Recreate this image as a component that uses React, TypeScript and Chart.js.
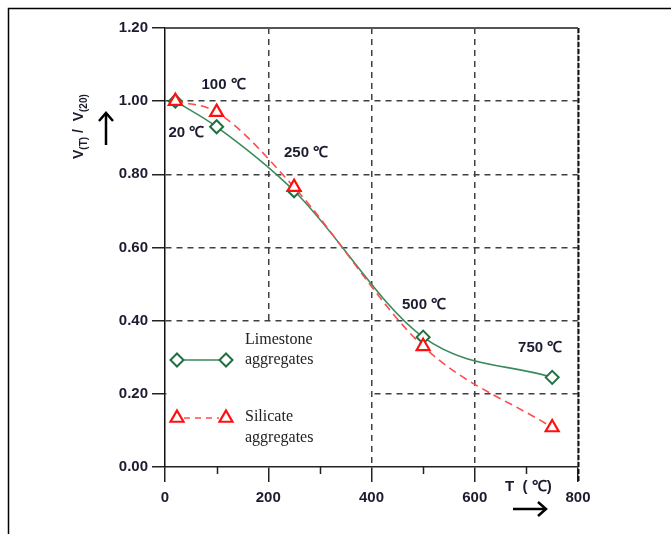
import React, { useEffect, useRef } from 'react';
import { Chart, registerables } from 'chart.js';

Chart.register(...registerables);

// ---------- data ----------
const temperatures = [20, 100, 250, 500, 750];
const limestone = [1.0, 0.93, 0.755, 0.355, 0.245];
const silicate = [1.0, 0.97, 0.765, 0.33, 0.108];
const xTicks = [0, 200, 400, 600, 800];
const xMinorTicks = [100, 300, 500, 700];
const yTicks = [0, 0.2, 0.4, 0.6, 0.8, 1.0, 1.2];
const annotationTemps = [100, 20, 250, 500, 750];
const legendLimestone = ['Limestone', 'aggregates'];
const legendSilicate = ['Silicate', 'aggregates'];

// ---------- styles / layout ----------
const GREEN_LINE = '#3a8a5c';
const GREEN_MARK = '#1f7040';
const RED_LINE = '#ff4d4d';
const RED_MARK = '#ff1010';
const TEXT = '#1c1c30';
const GRID = '#404040';
const SANS = '"Liberation Sans", Arial, sans-serif';
const SERIF = '"Liberation Serif", "Times New Roman", serif';
const annotationOffsets: [number, number][] = [
  [7, -42],
  [11, 32],
  [12, -38],
  [1, -32],
  [-12, -30],
];

function diamond(ctx: CanvasRenderingContext2D, x: number, y: number, r: number) {
  ctx.beginPath();
  ctx.moveTo(x, y - r);
  ctx.lineTo(x + r, y);
  ctx.lineTo(x, y + r);
  ctx.lineTo(x - r, y);
  ctx.closePath();
  ctx.fillStyle = '#fff';
  ctx.fill();
  ctx.strokeStyle = GREEN_MARK;
  ctx.lineWidth = 2;
  ctx.stroke();
}

function triangle(ctx: CanvasRenderingContext2D, x: number, y: number, r: number) {
  const c = Math.cos(Math.PI / 6) * r;
  ctx.beginPath();
  ctx.moveTo(x, y - r);
  ctx.lineTo(x + c, y + r / 2);
  ctx.lineTo(x - c, y + r / 2);
  ctx.closePath();
  ctx.fillStyle = '#fff';
  ctx.fill();
  ctx.strokeStyle = RED_MARK;
  ctx.lineWidth = 2.2;
  ctx.stroke();
}

const decorPlugin = {
  id: 'decor',
  beforeDatasetsDraw(chart: any) {
    const { ctx, chartArea: a, scales } = chart;
    const xs = scales.x;
    const ys = scales.y;
    ctx.save();
    // clear grid under the legend box
    const bx2 = xs.getPixelForValue(400) - 2;
    const by1 = ys.getPixelForValue(0.4) + 2;
    ctx.fillStyle = '#fff';
    ctx.fillRect(a.left + 1.5, by1, bx2 - a.left - 1.5, a.bottom - 1.5 - by1);
    // top border
    ctx.strokeStyle = '#555';
    ctx.lineWidth = 2;
    ctx.beginPath();
    ctx.moveTo(a.left, a.top);
    ctx.lineTo(a.right, a.top);
    ctx.stroke();
    // right border
    ctx.strokeStyle = '#888';
    ctx.lineWidth = 1;
    ctx.beginPath();
    ctx.moveTo(a.right, a.top);
    ctx.lineTo(a.right, a.bottom);
    ctx.stroke();
    ctx.strokeStyle = '#111';
    ctx.lineWidth = 2;
    ctx.setLineDash([5, 2]);
    ctx.beginPath();
    ctx.moveTo(a.right + 0.5, a.top);
    ctx.lineTo(a.right + 0.5, a.bottom + 14);
    ctx.stroke();
    ctx.setLineDash([]);
    ctx.restore();
  },
  afterDraw(chart: any) {
    const { ctx, chartArea: a, scales } = chart;
    const xs = scales.x;
    const ys = scales.y;
    ctx.save();

    // minor x ticks
    ctx.strokeStyle = '#222';
    ctx.lineWidth = 1.5;
    xMinorTicks.forEach((v) => {
      const px = Math.round(xs.getPixelForValue(v)) + 0.5;
      ctx.beginPath();
      ctx.moveTo(px, a.bottom);
      ctx.lineTo(px, a.bottom + 7);
      ctx.stroke();
    });

    // temperature annotations
    ctx.fillStyle = TEXT;
    ctx.font = `bold 15px ${SANS}`;
    ctx.textAlign = 'center';
    ctx.textBaseline = 'middle';
    annotationTemps.forEach((t, i) => {
      const idx = temperatures.indexOf(t);
      const px = xs.getPixelForValue(t) + annotationOffsets[i][0];
      const py = ys.getPixelForValue(limestone[idx]) + annotationOffsets[i][1];
      ctx.fillText(`${t} \u2103`, px, py);
    });

    // legend
    const lx1 = a.left + 12;
    const lx2 = a.left + 61;
    const ly1 = a.bottom - 107;
    const ly2 = a.bottom - 49;
    ctx.strokeStyle = GREEN_LINE;
    ctx.lineWidth = 1.6;
    ctx.beginPath();
    ctx.moveTo(lx1, ly1);
    ctx.lineTo(lx2, ly1);
    ctx.stroke();
    diamond(ctx, lx1, ly1, 6.5);
    diamond(ctx, lx2, ly1, 6.5);
    ctx.strokeStyle = RED_LINE;
    ctx.lineWidth = 1.6;
    ctx.setLineDash([6, 5]);
    ctx.beginPath();
    ctx.moveTo(lx1 + 7, ly2);
    ctx.lineTo(lx2 - 7, ly2);
    ctx.stroke();
    ctx.setLineDash([]);
    triangle(ctx, lx1, ly2, 7.5);
    triangle(ctx, lx2, ly2, 7.5);
    ctx.fillStyle = '#222';
    ctx.font = `16px ${SERIF}`;
    ctx.textAlign = 'left';
    ctx.textBaseline = 'middle';
    const tx = a.left + 80;
    ctx.fillText(legendLimestone[0], tx, ly1 - 20);
    ctx.fillText(legendLimestone[1], tx, ly1);
    ctx.fillText(legendSilicate[0], tx, ly2 - 1);
    ctx.fillText(legendSilicate[1], tx, ly2 + 20);

    // y-axis title (rotated) with sub-scripts
    ctx.fillStyle = TEXT;
    ctx.save();
    ctx.translate(a.left - 82, a.top + 131);
    ctx.rotate(-Math.PI / 2);
    ctx.textAlign = 'left';
    ctx.textBaseline = 'alphabetic';
    let cx = 0;
    const main = `bold 14px ${SANS}`;
    const sub = `bold 10px ${SANS}`;
    const parts: [string, string, number][] = [
      ['V', main, 0],
      ['(T)', sub, 4],
      [' /  V', main, 0],
      ['(20)', sub, 4],
    ];
    parts.forEach(([s, f, dy]) => {
      ctx.font = f;
      ctx.fillText(s, cx, dy);
      cx += ctx.measureText(s).width;
    });
    ctx.restore();

    // up arrow
    ctx.strokeStyle = '#000';
    ctx.lineWidth = 2.5;
    const ax = a.left - 59;
    ctx.beginPath();
    ctx.moveTo(ax, a.top + 117);
    ctx.lineTo(ax, a.top + 85);
    ctx.stroke();
    ctx.beginPath();
    ctx.moveTo(ax - 7, a.top + 93);
    ctx.lineTo(ax, a.top + 85);
    ctx.lineTo(ax + 7, a.top + 93);
    ctx.stroke();

    // x-axis title
    ctx.fillStyle = TEXT;
    ctx.font = `bold 15px ${SANS}`;
    ctx.textAlign = 'left';
    ctx.textBaseline = 'middle';
    ctx.fillText('T  ( \u2103)', a.right - 73, a.bottom + 20);
    // right arrow
    const ay = a.bottom + 42;
    ctx.beginPath();
    ctx.moveTo(a.right - 65, ay);
    ctx.lineTo(a.right - 32, ay);
    ctx.stroke();
    ctx.beginPath();
    ctx.moveTo(a.right - 40, ay - 7);
    ctx.lineTo(a.right - 32, ay);
    ctx.lineTo(a.right - 40, ay + 7);
    ctx.stroke();

    // outer frame of the picture
    ctx.strokeStyle = '#000';
    ctx.lineWidth = 1.5;
    ctx.beginPath();
    ctx.moveTo(8.5, chart.height);
    ctx.lineTo(8.5, 8.5);
    ctx.lineTo(chart.width, 8.5);
    ctx.stroke();

    ctx.restore();
  },
};

export default function App() {
  const ref = useRef<HTMLCanvasElement>(null);
  useEffect(() => {
    const canvas = ref.current!;
    const tickFont = { family: SANS, size: 15, weight: 'bold' as const };
    const chart = new Chart(canvas, {
      type: 'line',
      data: {
        datasets: [
          {
            label: 'Silicate aggregates',
            data: temperatures.map((t, i) => ({ x: t, y: silicate[i] })),
            borderColor: RED_LINE,
            borderWidth: 1.6,
            borderDash: [8, 5],
            pointStyle: 'triangle',
            pointRadius: 7.5,
            pointBorderColor: RED_MARK,
            pointBackgroundColor: '#fff',
            pointBorderWidth: 2.2,
            cubicInterpolationMode: 'monotone',
            fill: false,
          },
          {
            label: 'Limestone aggregates',
            data: temperatures.map((t, i) => ({ x: t, y: limestone[i] })),
            borderColor: GREEN_LINE,
            borderWidth: 1.6,
            pointStyle: 'rectRot',
            pointRadius: 6.5,
            pointBorderColor: GREEN_MARK,
            pointBackgroundColor: '#fff',
            pointBorderWidth: 2,
            cubicInterpolationMode: 'monotone',
            fill: false,
          },
        ],
      },
      options: {
        responsive: false,
        animation: false,
        devicePixelRatio: 1,
        layout: { padding: { left: 0, top: 28, right: 93, bottom: 0 } },
        plugins: { legend: { display: false }, tooltip: { enabled: false } },
        scales: {
          x: {
            type: 'linear',
            min: 0,
            max: 800,
            afterBuildTicks: (s: any) => {
              s.ticks = xTicks.map((v) => ({ value: v }));
            },
            afterFit: (s: any) => {
              s.height = 67;
            },
            ticks: { font: tickFont, color: TEXT, padding: 7, maxRotation: 0 },
            grid: {
              color: (c: any) =>
                c.tick && (c.tick.value === 0 || c.tick.value === 800) ? 'rgba(0,0,0,0)' : GRID,
              lineWidth: 1.5,
              tickLength: 15,
              tickColor: '#222',
              tickWidth: 1.5,
              tickBorderDash: [],
            },
            border: { display: true, color: '#222', width: 1.5, dash: [6, 5] },
          },
          y: {
            type: 'linear',
            min: 0,
            max: 1.2,
            afterBuildTicks: (s: any) => {
              s.ticks = yTicks.map((v) => ({ value: v }));
            },
            afterFit: (s: any) => {
              s.width = 165;
            },
            ticks: {
              font: tickFont,
              color: TEXT,
              padding: 4,
              callback: (v: any) => Number(v).toFixed(2),
            },
            grid: {
              color: (c: any) =>
                c.tick && (c.tick.value === 0 || c.tick.value === 1.2) ? 'rgba(0,0,0,0)' : GRID,
              lineWidth: 1.5,
              tickLength: 13,
              tickColor: '#222',
              tickWidth: 1.5,
              tickBorderDash: [],
            },
            border: { display: true, color: '#111', width: 1.5, dash: [6, 5] },
          },
        },
      } as any,
      plugins: [decorPlugin],
    });
    return () => chart.destroy();
  }, []);
  return (
    <div style={{ position: 'fixed', left: 0, top: 0, width: 671, height: 534, background: '#fff' }}>
      <canvas ref={ref} width={671} height={534} style={{ display: 'block' }} />
    </div>
  );
}
